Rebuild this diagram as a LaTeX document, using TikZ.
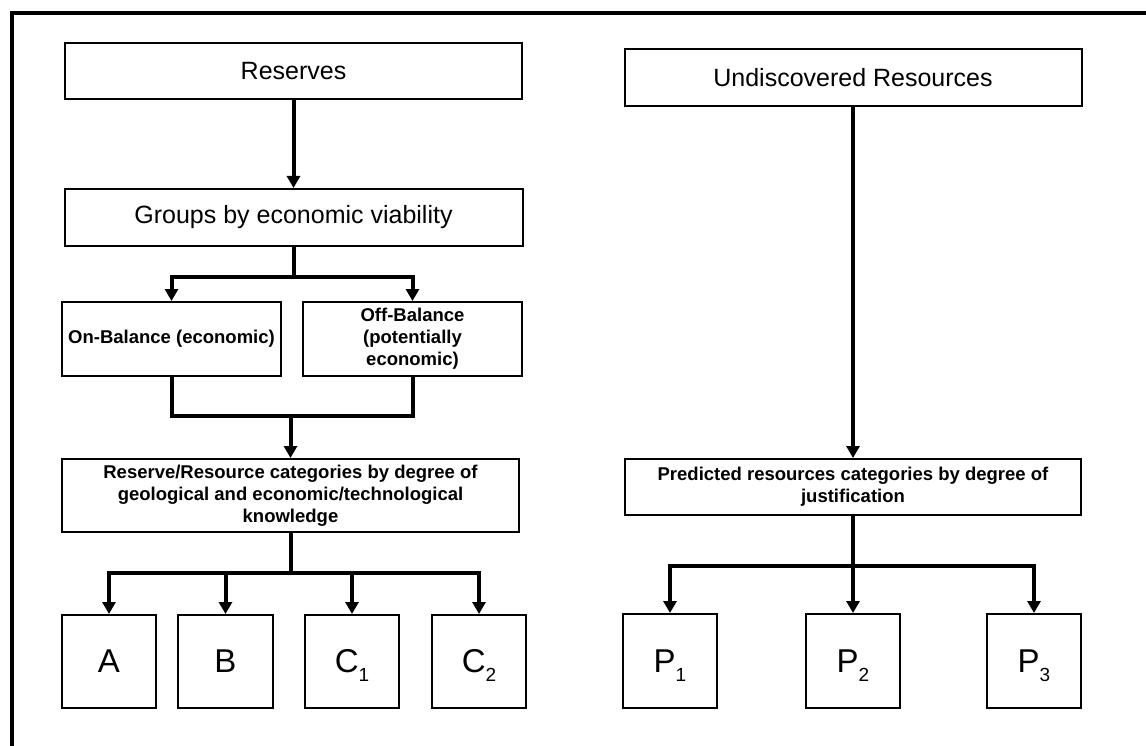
\documentclass[tikz,border=0pt]{standalone}
\usepackage{fontspec}
\setmainfont{Liberation Sans}
\usetikzlibrary{positioning, arrows.meta}

\newcommand{\lowidx}[1]{\raisebox{-9pt}[0pt][0pt]{\fontsize{19}{19}\selectfont #1}}

\begin{document}
\begin{tikzpicture}[
  x=1pt, y=-1pt,
  >={Triangle[length=12pt, width=13pt]},
  hbox/.style={draw, line width=2pt, align=center, inner sep=0pt,
               minimum width=457pt, minimum height=56pt,
               font=\fontsize{25}{29}\selectfont},
  gbox/.style={draw, line width=2pt, align=center, inner sep=0pt,
               font=\fontsize{18.5}{22}\selectfont\bfseries},
  lbox/.style={draw, line width=2pt, inner sep=0pt, minimum width=94pt,
               minimum height=93pt, font=\fontsize{33}{33}\selectfont},
  line/.style={line width=4pt},
  arr/.style={->, line width=4pt},
]
\useasboundingbox (0,0) rectangle (1146,746);
% ---- frame ----
\draw[line width=4pt] (12,746) |- (1146,13);
% ---- reserves side ----
\node[hbox] (res) at (293.5,71) {Reserves};
\node[hbox, below=88pt of res, minimum width=458pt, minimum height=57pt] (grp) {Groups by economic viability};
\node[gbox, minimum width=219pt, minimum height=74pt] (onb) at (171.5,339) {On-Balance (economic)};
\node[gbox, right=20pt of onb, minimum width=219pt, minimum height=74pt] (offb) {Off-Balance\\(potentially\\economic)};
\node[gbox, minimum width=457pt, minimum height=73pt] (cats) at (290.5,495.5)
  {Reserve/Resource categories by degree of\\geological and economic/technological\\knowledge};
\node[lbox] (ca) at (109,661.5) {A};
\node[lbox, right=20pt of ca, minimum width=95pt] (cb) {B};
\node[lbox, right=30pt of cb] (cc1) {C\lowidx{1}};
\node[lbox, right=31pt of cc1] (cc2) {C\lowidx{2}};
% ---- undiscovered side ----
\node[hbox, minimum height=57pt] (und) at (853,77.5) {Undiscovered Resources};
\node[gbox, minimum width=456pt, minimum height=56pt] (pred) at (853,487)
  {Predicted resources categories by degree of\\justification};
\node[lbox, minimum height=94pt] (p1) at (670,661) {P\lowidx{1}};
\node[lbox, minimum height=94pt] (p2) at (853,661) {P\lowidx{2}};
\node[lbox, minimum height=94pt] (p3) at (1034,661) {P\lowidx{3}};
% ---- connectors, reserves ----
\draw[arr] (res.south) -- (grp.north);
\draw[arr] (grp.south) -- ++(0,30) -| (onb.north);
\draw[arr] (grp.south) -- ++(0,30) -| (offb.north);
\coordinate (join) at (291,416);
\draw[line] (onb.south) |- (join) -| (offb.south);
\draw[arr] (cats.north |- join) -- (cats.north);
\draw[arr] (cats.south) -- ++(0,40) -| (ca.north);
\draw[arr] (cats.south) -- ++(0,40) -| (cb.north);
\draw[arr] (cats.south) -- ++(0,40) -| (cc1.north);
\draw[arr] (cats.south) -- ++(0,40) -| (cc2.north);
% ---- connectors, undiscovered ----
\draw[arr] (und.south) -- (pred.north);
\draw[arr] (pred.south) -- ++(0,50) -| (p1.north);
\draw[arr] (pred.south) -- (p2.north);
\draw[arr] (pred.south) -- ++(0,50) -| (p3.north);
\end{tikzpicture}
\end{document}
